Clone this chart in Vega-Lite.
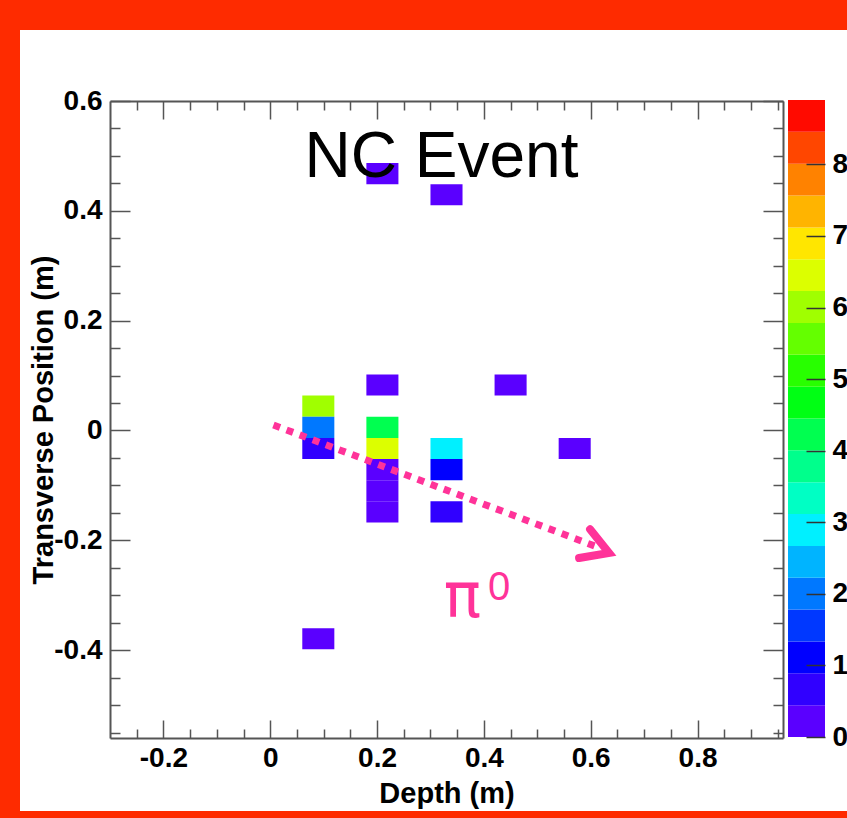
{
  "$schema": "https://vega.github.io/schema/vega-lite/v6.json",
  "width": 827,
  "height": 781,
  "autosize": "none",
  "padding": {"left": 20, "top": 30, "right": 0, "bottom": 7},
  "background": "#fe2b00",
  "view": {"fill": "white", "stroke": null},
  "config": {
    "axis": {
      "grid": false,
      "labelFont": "Liberation Sans",
      "labelFontWeight": "bold",
      "labelFontSize": 28,
      "labelColor": "#000000",
      "titleFont": "Liberation Sans",
      "titleFontWeight": "bold",
      "titleFontSize": 29,
      "titleColor": "#000000",
      "labelFlush": false,
      "labelOverlap": false,
      "labelBound": false,
      "domainColor": "#555555",
      "domainWidth": 2,
      "tickColor": "#555555",
      "tickWidth": 1.5
    },
    "text": {"font": "Liberation Sans"}
  },
  "datasets": {
    "cells": [
      {"x0": 0.06, "x1": 0.12, "y0": 0.025, "y1": 0.0635, "z": 6.0},
      {"x0": 0.06, "x1": 0.12, "y0": -0.0135, "y1": 0.025, "z": 2.0},
      {"x0": 0.06, "x1": 0.12, "y0": -0.052, "y1": -0.0135, "z": 0.65},
      {"x0": 0.06, "x1": 0.12, "y0": -0.3985, "y1": -0.36, "z": 0.2},
      {"x0": 0.18, "x1": 0.24, "y0": 0.4485, "y1": 0.487, "z": 0.2},
      {"x0": 0.18, "x1": 0.24, "y0": 0.0635, "y1": 0.102, "z": 0.2},
      {"x0": 0.18, "x1": 0.24, "y0": -0.0135, "y1": 0.025, "z": 4.2},
      {"x0": 0.18, "x1": 0.24, "y0": -0.052, "y1": -0.0135, "z": 6.4},
      {"x0": 0.18, "x1": 0.24, "y0": -0.0905, "y1": -0.052, "z": 0.2},
      {"x0": 0.18, "x1": 0.24, "y0": -0.129, "y1": -0.0905, "z": 0.2},
      {"x0": 0.18, "x1": 0.24, "y0": -0.1675, "y1": -0.129, "z": 0.2},
      {"x0": 0.30, "x1": 0.36, "y0": 0.41, "y1": 0.4485, "z": 0.2},
      {"x0": 0.30, "x1": 0.36, "y0": -0.052, "y1": -0.0135, "z": 2.9},
      {"x0": 0.30, "x1": 0.36, "y0": -0.0905, "y1": -0.052, "z": 1.1},
      {"x0": 0.30, "x1": 0.36, "y0": -0.1675, "y1": -0.129, "z": 0.7},
      {"x0": 0.42, "x1": 0.48, "y0": 0.0635, "y1": 0.102, "z": 0.2},
      {"x0": 0.54, "x1": 0.60, "y0": -0.052, "y1": -0.0135, "z": 0.2}
    ],
    "bands": [
      {"lo": 0, "hi": 0.445}, {"lo": 0.445, "hi": 0.89}, {"lo": 0.89, "hi": 1.335},
      {"lo": 1.335, "hi": 1.78}, {"lo": 1.78, "hi": 2.225}, {"lo": 2.225, "hi": 2.67},
      {"lo": 2.67, "hi": 3.115}, {"lo": 3.115, "hi": 3.56}, {"lo": 3.56, "hi": 4.005},
      {"lo": 4.005, "hi": 4.45}, {"lo": 4.45, "hi": 4.895}, {"lo": 4.895, "hi": 5.34},
      {"lo": 5.34, "hi": 5.785}, {"lo": 5.785, "hi": 6.23}, {"lo": 6.23, "hi": 6.675},
      {"lo": 6.675, "hi": 7.12}, {"lo": 7.12, "hi": 7.565}, {"lo": 7.565, "hi": 8.01},
      {"lo": 8.01, "hi": 8.455}, {"lo": 8.455, "hi": 8.9}
    ],
    "track": [
      {"x": 0.006, "y": 0.010, "o": 0},
      {"x": 0.611, "y": -0.2116, "o": 1}
    ],
    "head": [
      {"x": 0.5988, "y": -0.1799, "o": 0},
      {"x": 0.6343, "y": -0.2231, "o": 1},
      {"x": 0.5782, "y": -0.2322, "o": 2}
    ],
    "title": [{"x": 0.3207, "y": 0.4617, "t": "NC Event"}],
    "pi": [{"x": 0.36, "y": -0.3396, "t": "π"}],
    "sup": [{"x": 0.4078, "y": -0.3087, "t": "0"}]
  },
  "layer": [
    {
      "data": {"name": "cells"},
      "mark": {"type": "rect"},
      "encoding": {
        "x": {
          "field": "x0", "type": "quantitative",
          "scale": {"domain": [-0.3, 0.96], "range": [90, 763], "nice": false, "zero": false},
          "axis": {
            "orient": "bottom", "offset": -73,
            "values": [-0.25,-0.2,-0.15,-0.1,-0.05,0,0.05,0.1,0.15,0.2,0.25,0.3,0.35,0.4,0.45,0.5,0.55,0.6,0.65,0.7,0.75,0.8,0.85,0.9,0.95],
            "tickSize": {"condition": {"test": "abs(datum.value*5 - round(datum.value*5)) < 0.001", "value": -18}, "value": -9},
            "labelPadding": 24,
            "labelExpr": "abs(datum.value*5 - round(datum.value*5)) < 0.001 ? '' + round(datum.value*10)/10 : ''",
            "title": "Depth (m)", "titleY": 64, "titleBaseline": "alphabetic"
          }
        },
        "x2": {"field": "x1"},
        "y": {
          "field": "y0", "type": "quantitative",
          "scale": {"domain": [-0.56, 0.6], "range": [708, 71], "nice": false, "zero": false},
          "axis": {
            "orient": "left", "offset": -90,
            "values": [-0.55,-0.5,-0.45,-0.4,-0.35,-0.3,-0.25,-0.2,-0.15,-0.1,-0.05,0,0.05,0.1,0.15,0.2,0.25,0.3,0.35,0.4,0.45,0.5,0.55,0.6],
            "tickSize": {"condition": {"test": "abs(datum.value*5 - round(datum.value*5)) < 0.001", "value": -20}, "value": -10},
            "labelPadding": 28,
            "labelExpr": "abs(datum.value*5 - round(datum.value*5)) < 0.001 ? '' + round(datum.value*10)/10 : ''",
            "title": "Transverse Position (m)", "titleX": -58, "titleAngle": 270, "titleBaseline": "alphabetic"
          }
        },
        "y2": {"field": "y1"},
        "color": {
          "field": "z", "type": "quantitative",
          "scale": {
            "type": "threshold",
            "domain": [0.445, 0.89, 1.335, 1.78, 2.225, 2.67, 3.115, 3.56, 4.005, 4.45, 4.895, 5.34, 5.785, 6.23, 6.675, 7.12, 7.565, 8.01, 8.455],
            "range": ["#5a00ff","#3000ff","#0000ff","#0038ff","#0078ff","#00b4ff","#00f0ff","#00ffc4","#00ff8c","#00ff50","#00ff14","#28ff00","#64ff00","#a0ff00","#dcff00","#ffe600","#ffb400","#ff8200","#ff4600","#ff0a00"]
          },
          "legend": null
        }
      }
    },
    {
      "data": {"name": "track"},
      "mark": {"type": "line", "color": "#ff3399", "strokeWidth": 7, "strokeDash": [7, 7]},
      "encoding": {
        "x": {
          "field": "x", "type": "quantitative",
          "scale": {"domain": [-0.3, 0.96], "range": [90, 763], "nice": false, "zero": false},
          "axis": {
            "orient": "top", "offset": -71,
            "values": [-0.25,-0.2,-0.15,-0.1,-0.05,0,0.05,0.1,0.15,0.2,0.25,0.3,0.35,0.4,0.45,0.5,0.55,0.6,0.65,0.7,0.75,0.8,0.85,0.9,0.95],
            "tickSize": {"condition": {"test": "abs(datum.value*5 - round(datum.value*5)) < 0.001", "value": -18}, "value": -9},
            "labels": false, "title": null
          }
        },
        "y": {
          "field": "y", "type": "quantitative",
          "scale": {"domain": [-0.56, 0.6], "range": [708, 71], "nice": false, "zero": false},
          "axis": {
            "orient": "right", "offset": -64,
            "values": [-0.55,-0.5,-0.45,-0.4,-0.35,-0.3,-0.25,-0.2,-0.15,-0.1,-0.05,0,0.05,0.1,0.15,0.2,0.25,0.3,0.35,0.4,0.45,0.5,0.55,0.6],
            "tickSize": {"condition": {"test": "abs(datum.value*5 - round(datum.value*5)) < 0.001", "value": -20}, "value": -10},
            "labels": false, "title": null
          }
        },
        "order": {"field": "o"}
      }
    },
    {
      "data": {"name": "head"},
      "mark": {"type": "line", "color": "#ff3399", "strokeWidth": 8, "strokeCap": "round", "strokeJoin": "miter"},
      "encoding": {
        "x": {"field": "x", "type": "quantitative", "scale": {"domain": [-0.3, 0.96], "range": [90, 763], "nice": false, "zero": false}, "axis": null},
        "y": {"field": "y", "type": "quantitative", "scale": {"domain": [-0.56, 0.6], "range": [708, 71], "nice": false, "zero": false}, "axis": null},
        "order": {"field": "o"}
      }
    },
    {
      "data": {"name": "title"},
      "mark": {"type": "text", "font": "Liberation Sans", "fontSize": 64, "align": "center", "baseline": "alphabetic", "color": "#000000"},
      "encoding": {
        "x": {"field": "x", "type": "quantitative", "scale": {"domain": [-0.3, 0.96], "range": [90, 763], "nice": false, "zero": false}, "axis": null},
        "y": {"field": "y", "type": "quantitative", "scale": {"domain": [-0.56, 0.6], "range": [708, 71], "nice": false, "zero": false}, "axis": null},
        "text": {"field": "t"}
      }
    },
    {
      "data": {"name": "pi"},
      "mark": {"type": "text", "font": "DejaVu Sans", "fontSize": 62, "align": "center", "baseline": "alphabetic", "color": "#ff3399"},
      "encoding": {
        "x": {"field": "x", "type": "quantitative", "scale": {"domain": [-0.3, 0.96], "range": [90, 763], "nice": false, "zero": false}, "axis": null},
        "y": {"field": "y", "type": "quantitative", "scale": {"domain": [-0.56, 0.6], "range": [708, 71], "nice": false, "zero": false}, "axis": null},
        "text": {"field": "t"}
      }
    },
    {
      "data": {"name": "sup"},
      "mark": {"type": "text", "font": "Liberation Sans", "fontSize": 40, "align": "left", "baseline": "alphabetic", "color": "#ff3399"},
      "encoding": {
        "x": {"field": "x", "type": "quantitative", "scale": {"domain": [-0.3, 0.96], "range": [90, 763], "nice": false, "zero": false}, "axis": null},
        "y": {"field": "y", "type": "quantitative", "scale": {"domain": [-0.56, 0.6], "range": [708, 71], "nice": false, "zero": false}, "axis": null},
        "text": {"field": "t"}
      }
    },
    {
      "data": {"name": "bands"},
      "mark": {"type": "rect"},
      "encoding": {
        "x": {"datum": 0, "type": "quantitative", "scale": {"domain": [0, 1], "range": [768, 805], "nice": false, "zero": false}, "axis": null},
        "x2": {"datum": 1},
        "y": {
          "field": "lo", "type": "quantitative",
          "scale": {"domain": [0, 8.9], "range": [707, 70], "nice": false, "zero": false},
          "axis": {
            "orient": "right", "offset": -22, "zindex": 1,
            "values": [0, 1, 2, 3, 4, 5, 6, 7, 8],
            "tickSize": -19, "tickColor": "#333333",
            "labelPadding": 26, "domain": false, "title": null
          }
        },
        "y2": {"field": "hi"},
        "color": {
          "field": "lo", "type": "quantitative",
          "scale": {
            "type": "threshold",
            "domain": [0.445, 0.89, 1.335, 1.78, 2.225, 2.67, 3.115, 3.56, 4.005, 4.45, 4.895, 5.34, 5.785, 6.23, 6.675, 7.12, 7.565, 8.01, 8.455],
            "range": ["#5a00ff","#3000ff","#0000ff","#0038ff","#0078ff","#00b4ff","#00f0ff","#00ffc4","#00ff8c","#00ff50","#00ff14","#28ff00","#64ff00","#a0ff00","#dcff00","#ffe600","#ffb400","#ff8200","#ff4600","#ff0a00"]
          },
          "legend": null
        }
      }
    }
  ],
  "resolve": {"scale": {"x": "independent", "y": "independent", "color": "shared"}}
}
